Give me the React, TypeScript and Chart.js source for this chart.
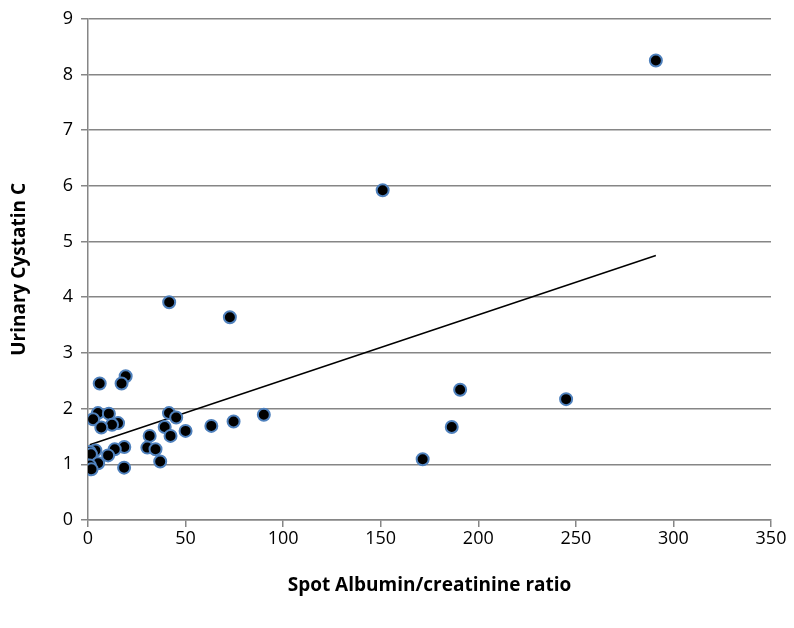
import React, { useEffect, useRef } from "react";
import { Chart, registerables } from "chart.js";

Chart.register(...registerables);

const albuminRatio = [291, 151, 41.6, 72.7, 171.5, 186.4, 190.7, 245, 90.1, 74.6, 63.2, 50, 41.5, 45.2, 39.3, 42.3, 31.6, 30.4, 34.6, 37.0, 19.3, 17.2, 6.0, 5.1, 10.7, 2.6, 15.4, 12.3, 6.8, 18.6, 13.7, 10.3, 3.8, 0.9, 1.5, 5.2, 0.9, 1.8, 18.5];
const cystatinC = [8.25, 5.92, 3.91, 3.64, 1.09, 1.67, 2.34, 2.17, 1.89, 1.77, 1.69, 1.60, 1.92, 1.84, 1.67, 1.51, 1.51, 1.30, 1.27, 1.05, 2.58, 2.45, 2.45, 1.92, 1.91, 1.81, 1.74, 1.71, 1.66, 1.31, 1.27, 1.16, 1.25, 1.22, 1.18, 1.02, 0.98, 0.91, 0.94];
const trendX = [0.9, 291];
const trendY = [1.35, 4.75];

const xTitle = "Spot Albumin/creatinine ratio";
const yTitle = "Urinary Cystatin C";

const FONT = "'Open Sans', 'DejaVu Sans', sans-serif";
const GRID = "#868686";

export default function App() {
  const ref = useRef<HTMLCanvasElement | null>(null);
  useEffect(() => {
    document.body.style.margin = "0";
    const canvas = ref.current;
    if (!canvas) return;
    const points = albuminRatio.map((x, i) => ({ x, y: cystatinC[i] }));
    const trend = trendX.map((x, i) => ({ x, y: trendY[i] }));
    const chart = new Chart(canvas, {
      type: "scatter",
      data: {
        datasets: [
          {
            type: "line",
            data: trend,
            borderColor: "#000000",
            borderWidth: 1.5,
            pointRadius: 0,
            showLine: true,
            fill: false,
            order: 1,
          } as any,
          {
            data: points,
            backgroundColor: "#000000",
            borderColor: "#4f81bd",
            borderWidth: 2,
            pointRadius: 6,
            order: 0,
          },
        ],
      },
      options: {
        animation: false,
        responsive: false,
        events: [],
        layout: { padding: { top: 15, right: 23, left: 0, bottom: 0 } },
        plugins: { legend: { display: false }, tooltip: { enabled: false } },
        scales: {
          x: {
            type: "linear",
            min: 0,
            max: 350,
            ticks: { stepSize: 50, color: "#000", font: { family: FONT, size: 18 }, padding: 1, maxRotation: 0 },
            grid: { drawOnChartArea: false, drawTicks: true, tickLength: 7, color: GRID, lineWidth: 1.5 },
            border: { color: GRID, width: 1.5 },
            title: { display: true, text: xTitle, color: "#000", font: { family: FONT, size: 19, weight: "bold" }, padding: { top: 0, bottom: 31 } },
            afterFit: (s: any) => { s.height = 108; },
          },
          y: {
            type: "linear",
            min: 0,
            max: 9,
            ticks: { stepSize: 1, color: "#000", font: { family: FONT, size: 18 }, padding: 8 },
            grid: { drawTicks: true, tickLength: 7, color: GRID, lineWidth: 1.5 },
            border: { color: GRID, width: 1.5 },
            title: { display: true, text: yTitle, color: "#000", font: { family: FONT, size: 19, weight: "bold" }, padding: { top: 8, bottom: 0 } },
            afterFit: (s: any) => { s.width = 88; },
          },
        },
      },
    });
    return () => chart.destroy();
  }, []);
  return (
    <div style={{ width: 794, height: 628, background: "#fff" }}>
      <canvas ref={ref} width={794} height={628} style={{ display: "block" }} />
    </div>
  );
}
